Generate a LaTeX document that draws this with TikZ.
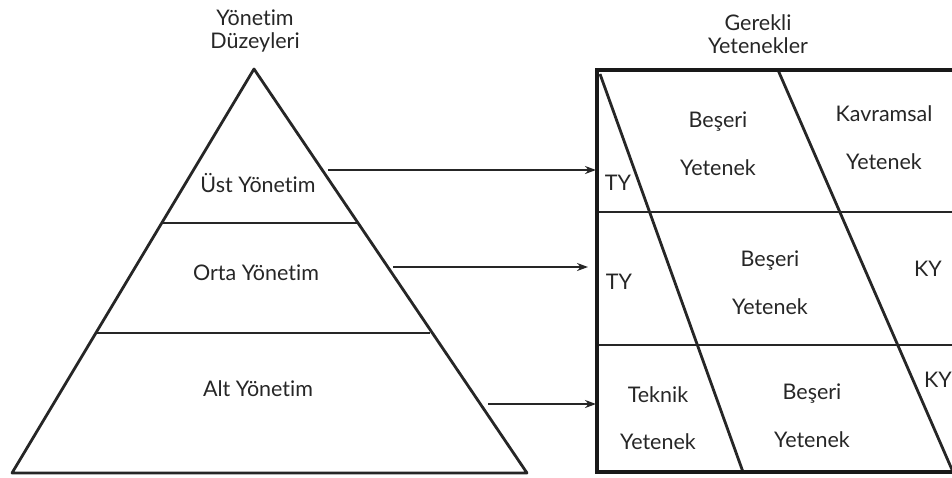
\documentclass[tikz,border=0pt]{standalone}
\usepackage{fontspec}
\setmainfont{Lato}[Ligatures=NoCommon]
\usetikzlibrary{arrows.meta}

\begin{document}
\begin{tikzpicture}[
    x=1pt, y=-1pt,
    >={Stealth[length=11pt,width=8pt]},
    edge/.style  = {draw=black!85, line width=2.8pt, line join=round},
    frame/.style = {draw=black!90, line width=3.6pt},
    link/.style  = {->, draw=black!85, line width=2.6pt},
    lbl/.style   = {font=\fontsize{21.5}{24}\selectfont, text=black!85,
                     inner sep=0pt, align=center},
  ]
  \useasboundingbox (0,0) rectangle (952,477);
  \clip (0,0) rectangle (952,477);
  % pyramid of management levels
  \coordinate (apex) at (254,69);
  \coordinate (bl)   at (12,473);
  \coordinate (br)   at (527,473);
  \draw[edge] (bl) -- (apex) -- (br) -- cycle;
  \coordinate (l1) at (162,223);  \coordinate (r1) at (357,223);
  \coordinate (l2) at (97,333);   \coordinate (r2) at (430,333);
  \draw[edge] (l1) -- (r1);
  \draw[edge] (l2) -- (r2);
  % grid of required skills
  \coordinate (tl) at (597,70);
  \coordinate (tr) at (962,70);
  \coordinate (bb) at (962,472);
  \coordinate (lb) at (597,472);
  \draw[edge] (597,212) -- (962,212);
  \draw[edge] (597,345) -- (962,345);
  \draw[edge] (600,74) -- (743,472);
  \draw[edge] (778,70) -- (953,472);
  \draw[frame] (tr) -- (tl) -- (lb) -- (bb);
  % titles
  \node[lbl] (lvl)  at (255,31) {Yönetim\\[-1pt]Düzeyleri};
  \node[lbl] (req)  at (758,34) {Gerekli\\[-1pt]Yetenekler};
  % levels
  \node[lbl] (ust)  at (258,183) {Üst Yönetim};
  \node[lbl] (orta) at (256,273) {Orta Yönetim};
  \node[lbl] (alt)  at (258,389) {Alt Yönetim};
  % skills, top row
  \node[lbl] (ty1) at (618,183) {TY};
  \node[lbl] (bs1) at (718,144) {Beşeri\\[24pt]Yetenek};
  \node[lbl] (kv1) at (884,138) {Kavramsal\\[24pt]Yetenek};
  % skills, middle row
  \node[lbl] (ty2) at (619,282) {TY};
  \node[lbl] (bs2) at (770,283) {Beşeri\\[24pt]Yetenek};
  \node[lbl] (ky2) at (928,269) {KY};
  % skills, bottom row
  \node[lbl] (tk3) at (658,418) {Teknik\\[23pt]Yetenek};
  \node[lbl] (bs3) at (812,416) {Beşeri\\[24pt]Yetenek};
  \node[lbl] (ky3) at (938,380) {KY};
  % level-to-skill arrows
  \coordinate (a1) at (328,170);  \coordinate (b1) at (596,170);
  \coordinate (a2) at (393,267);  \coordinate (b2) at (588,267);
  \coordinate (a3) at (488,404);  \coordinate (b3) at (596,404);
  \foreach \i in {1,2,3}{\draw[link] (a\i) -- (b\i);}
\end{tikzpicture}
\end{document}
